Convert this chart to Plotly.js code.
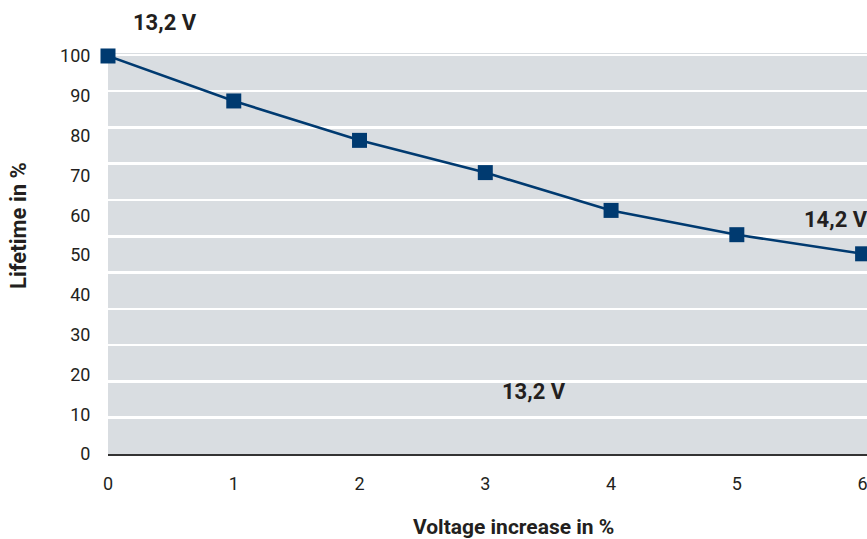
<!DOCTYPE html>
<html>
<head>
<meta charset="utf-8">
<script src="https://cdn.plot.ly/plotly-3.0.1.min.js"></script>
<style>html,body{margin:0;padding:0;background:#fff;}#chart{width:867px;height:539px;}</style>
</head>
<body>
<div id="chart"></div>
<script>
// Data
const voltageIncrease = [0, 1, 2, 3, 4, 5, 6];
const lifetime = [100, 88.7, 78.8, 70.7, 61.2, 55.1, 50.3];
const yTickValues = [0, 10, 20, 30, 40, 50, 60, 70, 80, 90, 100];
const xTickValues = [0, 1, 2, 3, 4, 5, 6];
const labelTop = "13,2 V";
const labelRight = "14,2 V";
const labelBottom = "13,2 V";
const xTitle = "Voltage increase in %";
const yTitle = "Lifetime in %";

const navy = '#003a70';
const txt = '#231f20';
const fontFamily = 'Roboto, "DejaVu Sans", sans-serif';

const traces = [
  {
    x: voltageIncrease,
    y: lifetime,
    type: 'scatter',
    mode: 'lines+markers',
    line: {color: navy, width: 2.6},
    marker: {symbol: 'square', size: 15, color: navy},
    cliponaxis: false,
    hoverinfo: 'x+y'
  },
  {
    x: [], y: [], yaxis: 'y2', type: 'scatter', mode: 'lines', showlegend: false, hoverinfo: 'skip'
  }
];

const layout = {
  width: 867, height: 539,
  margin: {l: 108, r: 0, t: 53, b: 85},
  paper_bgcolor: '#ffffff',
  plot_bgcolor: '#d9dde1',
  showlegend: false,
  font: {family: fontFamily, color: txt, size: 18},
  xaxis: {
    range: [0, 6.035],
    tickvals: xTickValues,
    ticktext: xTickValues.map(String),
    ticklabeloverflow: 'allow',
    showgrid: false,
    zeroline: false,
    showline: true,
    linecolor: '#333333',
    linewidth: 2,
    ticks: 'outside', ticklen: 12, tickcolor: 'rgba(0,0,0,0)',
    tickfont: {size: 18, family: fontFamily, color: txt},
    fixedrange: true
  },
  yaxis: {
    range: [0, 100.75],
    tickvals: yTickValues,
    ticktext: yTickValues.map(String),
    showgrid: false,
    zeroline: false,
    showline: false,
    ticks: 'outside', ticklen: 13, tickcolor: 'rgba(0,0,0,0)',
    tickfont: {size: 18, family: fontFamily, color: txt},
    fixedrange: true
  },
  yaxis2: {
    overlaying: 'y',
    side: 'right',
    range: [0, 110.5],
    dtick: 10,
    tick0: 0,
    showgrid: true,
    gridcolor: '#ffffff',
    gridwidth: 2.5,
    showticklabels: false,
    zeroline: false,
    showline: false,
    ticks: '',
    fixedrange: true
  },
  annotations: [
    {x: 0.45, y: 1.077, xref: 'x', yref: 'paper', xanchor: 'center', yanchor: 'middle',
     text: '<b>' + labelTop + '</b>', showarrow: false,
     font: {size: 22, family: fontFamily, color: txt}},
    {x: 5.79, y: 58.9, xref: 'x', yref: 'y', xanchor: 'center', yanchor: 'middle',
     text: '<b>' + labelRight + '</b>', showarrow: false,
     font: {size: 22, family: fontFamily, color: txt}},
    {x: 3.39, y: 15.8, xref: 'x', yref: 'y', xanchor: 'center', yanchor: 'middle',
     text: '<b>' + labelBottom + '</b>', showarrow: false,
     font: {size: 22, family: fontFamily, color: txt}},
    {x: 513 / 867, y: (539 - 527) / 539, xref: 'paper', yref: 'paper', xanchor: 'center', yanchor: 'middle',
     text: '<b>' + xTitle + '</b>', showarrow: false, yshift: 0,
     font: {size: 21, family: fontFamily, color: txt}},
    {x: 18 / 867, y: (539 - 226) / 539, xref: 'paper', yref: 'paper', xanchor: 'center', yanchor: 'middle',
     text: '<b>' + yTitle + '</b>', showarrow: false, textangle: -90,
     font: {size: 22, family: fontFamily, color: txt}}
  ]
};
// annotations with paper refs are relative to plot area; convert pixel positions
(function () {
  const L = layout.margin.l, T = layout.margin.t;
  const W = 867 - L - layout.margin.r, H = 539 - T - layout.margin.b;
  const a3 = layout.annotations[3], a4 = layout.annotations[4];
  a3.x = (513 - L) / W; a3.y = (539 - layout.margin.b - 527) / H;
  a4.x = (18 - L) / W; a4.y = (539 - layout.margin.b - 226) / H;
})();

Plotly.newPlot('chart', traces, layout, {displayModeBar: false, staticPlot: true});
</script>
</body>
</html>
